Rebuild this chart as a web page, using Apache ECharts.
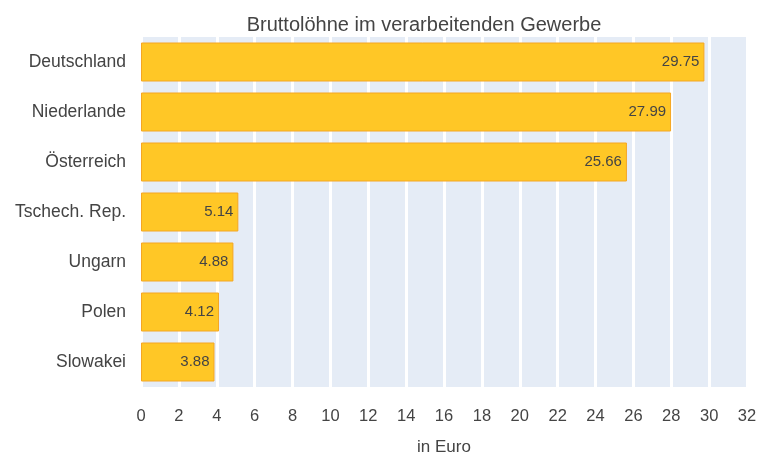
<!DOCTYPE html>
<html>
<head>
<meta charset="utf-8">
<script src="https://cdn.jsdelivr.net/npm/echarts@6/dist/echarts.min.js"></script>
<style>
html, body { margin: 0; padding: 0; background: #fff; }
#main { width: 765px; height: 454px; }
</style>
</head>
<body>
<div id="main"></div>
<script>
// Bruttolöhne im verarbeitenden Gewerbe
var countries = ['Deutschland', 'Niederlande', 'Österreich', 'Tschech. Rep.', 'Ungarn', 'Polen', 'Slowakei'];
var wages = [29.75, 27.99, 25.66, 5.14, 4.88, 4.12, 3.88];

var chart = echarts.init(document.getElementById('main'));
var opt = {
    backgroundColor: '#fff',
    title: {
        text: 'Bruttolöhne im verarbeitenden Gewerbe',
        left: 419,
        textAlign: 'center',
        top: 10,
        textStyle: {
            color: '#444',
            fontSize: 20,
            fontWeight: 'normal',
            fontFamily: 'Liberation Sans, Arial, sans-serif'
        }
    },
    grid: {
        left: 141,
        right: 18,
        top: 37,
        bottom: 67,
        outerBoundsMode: 'none',
        containLabel: false,
        show: true,
        backgroundColor: '#e5ecf6',
        borderWidth: 0
    },
    xAxis: {
        type: 'value',
        min: 0,
        max: 32,
        interval: 2,
        name: 'in Euro',
        nameLocation: 'middle',
        nameGap: 52,
        nameTextStyle: { color: '#444', fontSize: 17, fontFamily: 'Liberation Sans, Arial, sans-serif' },
        axisLine: { show: false },
        axisTick: { show: false },
        axisLabel: {
            color: '#444',
            fontSize: 16.5,
            margin: 21,
            fontFamily: 'Liberation Sans, Arial, sans-serif',
            showMinLabel: true,
            showMaxLabel: true
        },
        splitLine: {
            show: true,
            lineStyle: { color: '#fff', width: 3 }
        }
    },
    yAxis: {
        type: 'category',
        data: countries,
        inverse: true,
        axisLine: { show: false },
        axisTick: { show: false },
        axisLabel: {
            color: '#444',
            fontSize: 17.5,
            margin: 15,
            fontFamily: 'Liberation Sans, Arial, sans-serif'
        },
        splitLine: { show: false }
    },
    series: [{
        type: 'bar',
        data: wages,
        barCategoryGap: '22%',
        itemStyle: {
            color: '#ffc726',
            borderColor: '#f5a623',
            borderWidth: 1
        },
        label: {
            show: true,
            position: 'insideRight',
            distance: 5,
            color: '#444',
            fontSize: 15,
            fontFamily: 'Liberation Sans, Arial, sans-serif',
            formatter: function (p) { return p.value.toFixed(2); }
        }
    }]
};
chart.setOption(opt);
</script>
</body>
</html>
